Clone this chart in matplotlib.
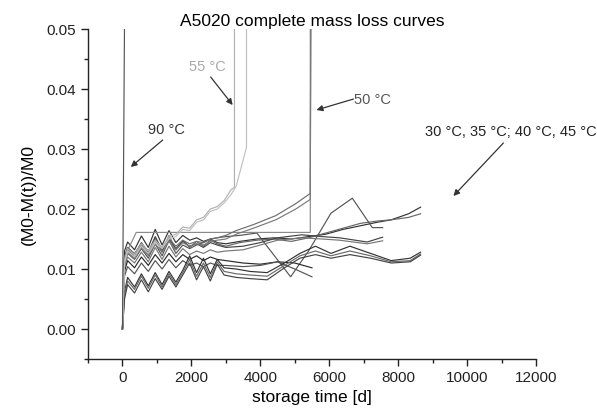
import matplotlib
matplotlib.use("Agg")
import matplotlib.pyplot as plt
from matplotlib.ticker import MultipleLocator, FormatStrFormatter

plt.rcParams['font.family'] = ['Liberation Sans', 'DejaVu Sans']

# ---------------- data (mass loss in per-mille, time in days) ----------------
T_EARLY = [0, 60, 150, 350, 550, 750, 950, 1150, 1350, 1550, 1750, 1950, 2150, 2350, 2550, 2750]

# 30-45 °C curves
u1_t = T_EARLY + [3000, 3400, 3900, 4400, 4900, 5400, 5900, 6400, 6900, 7400, 7800, 8300, 8650]
u1_y = [0, 13.0, 14.5, 13.2, 15.5, 13.6, 16.6, 14.0, 16.4, 14.4, 15.6, 14.8, 15.2, 14.6, 15.0, 14.4,
        14.2, 14.6, 15.0, 15.2, 15.0, 15.4, 15.8, 16.6, 17.2, 17.8, 18.2, 19.2, 20.3]
u2_t = T_EARLY + [3000, 3400, 3900, 4400, 4900, 5400, 5900, 6400, 6900, 7400, 7800, 8300, 8650]
u2_y = [0, 11.5, 13.2, 12.0, 14.0, 12.4, 15.2, 12.8, 15.6, 13.2, 14.8, 13.6, 14.6, 13.8, 14.8, 14.2,
        13.8, 14.4, 14.8, 15.0, 14.6, 15.2, 16.0, 16.8, 17.6, 18.0, 18.2, 18.6, 19.2]
u3_t = T_EARLY + [3000, 3400, 3900, 4880, 5400, 6050, 6670, 7250, 7550]
u3_y = [0, 10.8, 12.6, 11.6, 13.4, 11.8, 14.2, 12.2, 14.8, 12.6, 14.0, 13.4, 14.0, 14.4, 15.0, 15.2,
        15.4, 15.6, 16.0, 8.7, 13.0, 19.3, 21.8, 16.9, 16.9]
u4_t = T_EARLY + [3000, 3500, 4000, 4500, 5200, 5800, 6300, 7100, 7550]
u4_y = [0, 12.0, 13.6, 12.4, 14.4, 12.8, 15.4, 13.2, 15.0, 13.4, 14.6, 13.8, 14.2, 13.6, 14.4, 14.0,
        13.6, 13.8, 14.4, 15.2, 15.7, 15.4, 15.2, 14.5, 15.3]
u5_t = T_EARLY + [3000, 3500, 4000, 4500, 5200, 5800, 6300, 7100, 7550]
u5_y = [0, 10.4, 12.0, 11.0, 12.8, 11.2, 13.6, 11.6, 13.8, 12.0, 13.4, 12.4, 13.0, 12.6, 13.2, 12.8,
        13.0, 13.2, 14.0, 14.8, 15.2, 15.0, 14.8, 14.2, 14.7]
m1_t = T_EARLY + [3000, 3500, 4000, 4500, 5000, 5500]
m1_y = [0, 9.6, 11.4, 10.2, 12.0, 10.6, 12.4, 11.0, 12.6, 11.2, 12.4, 11.6, 12.2, 11.4, 12.0, 11.6,
        11.4, 11.0, 10.8, 11.2, 11.0, 10.2]
m2_t = T_EARLY + [3000, 3500, 4000, 4500, 5000, 5500]
m2_y = [0, 8.8, 10.4, 9.2, 11.0, 9.6, 11.4, 10.0, 11.6, 10.2, 11.4, 10.6, 11.0, 10.4, 11.0, 10.6,
        10.6, 10.4, 10.6, 11.2, 10.0, 8.7]
l1_t = T_EARLY + [2950, 3300, 3700, 4200, 4700, 5150, 5600, 6050, 6600, 7200, 7800, 8350, 8650]
l1_y = [0, 6.2, 8.6, 7.0, 9.2, 7.2, 9.4, 7.4, 9.6, 7.8, 9.8, 12.2, 9.4, 11.8, 9.2, 11.6,
        10.2, 10.0, 9.6, 9.4, 11.0, 12.6, 13.8, 12.6, 13.8, 12.6, 11.4, 11.8, 12.8]
l2_t = T_EARLY + [2950, 3300, 3700, 4200, 4700, 5150, 5600, 6050, 6600, 7200, 7800, 8350, 8650]
l2_y = [0, 5.6, 8.0, 6.6, 8.8, 6.8, 9.0, 7.0, 9.2, 7.4, 9.4, 11.6, 8.8, 11.0, 8.6, 11.2,
        9.6, 9.2, 9.0, 8.8, 10.6, 12.2, 13.0, 12.2, 13.0, 12.2, 11.2, 11.4, 12.5]
l3_t = T_EARLY + [2950, 3300, 3700, 4200, 4700, 5150, 5600, 6050, 6600, 7200, 7800, 8350, 8650]
l3_y = [0, 5.0, 7.4, 6.0, 8.2, 6.2, 8.4, 6.6, 8.8, 7.0, 9.0, 11.0, 8.2, 10.4, 8.0, 10.8,
        9.0, 8.6, 8.4, 8.2, 10.2, 11.8, 12.4, 11.8, 12.4, 11.8, 11.0, 11.2, 12.3]

# 50 °C curves
f1_t = [0, 60, 400, 5450, 5450]
f1_y = [0, 12.0, 16.1, 16.1, 60.0]
f2_t = T_EARLY + [3000, 3300, 3800, 4450, 5030, 5450, 5470]
f2_y = [0, 11.8, 13.6, 12.6, 14.2, 13.0, 14.8, 13.4, 15.0, 13.8, 14.8, 14.2, 14.6, 14.4, 15.0, 15.2,
        15.6, 16.4, 17.4, 18.9, 20.9, 22.6, 60.0]
f3_t = T_EARLY + [3000, 3300, 3800, 4450, 5030, 5450, 5470]
f3_y = [0, 11.0, 12.8, 11.8, 13.6, 12.2, 14.2, 12.8, 14.6, 13.2, 14.4, 13.8, 14.2, 14.0, 14.6, 14.8,
        15.0, 15.8, 16.8, 18.2, 20.0, 21.6, 60.0]

# 55 °C curves
s1_t = T_EARLY + [2950, 3150, 3250, 3250]
s1_y = [0, 11.5, 13.4, 12.4, 14.2, 13.0, 14.8, 13.6, 15.4, 15.8, 17.0, 16.8, 18.2, 18.6, 20.0, 20.4,
        21.4, 23.2, 23.6, 60.0]
s2_t = T_EARLY + [2950, 3150, 3300, 3600, 3600]
s2_y = [0, 11.0, 13.0, 12.0, 13.8, 12.6, 14.4, 13.4, 15.0, 15.4, 16.6, 16.4, 17.8, 18.2, 19.6, 20.0,
        21.0, 22.4, 23.8, 30.3, 60.0]

# 90 °C curve
h1_t = [0, 70]
h1_y = [0, 60.0]

PERMILLE = 1e-3

# ---------------- figure ----------------
fig = plt.figure(figsize=(5.97, 4.12), dpi=100)
ax = fig.add_axes([0.1474, 0.1286, 0.7504, 0.8010])

series = [
    (u1_t, u1_y, '#333333'), (u2_t, u2_y, '#666666'), (u3_t, u3_y, '#555555'),
    (u4_t, u4_y, '#444444'), (u5_t, u5_y, '#777777'), (m1_t, m1_y, '#2a2a2a'),
    (m2_t, m2_y, '#555555'), (l1_t, l1_y, '#333333'), (l2_t, l2_y, '#6a6a6a'),
    (l3_t, l3_y, '#444444'),
    (f1_t, f1_y, '#8a8a8a'), (f2_t, f2_y, '#6e6e6e'), (f3_t, f3_y, '#7a7a7a'),
    (s1_t, s1_y, '#b0b0b0'), (s2_t, s2_y, '#c0c0c0'),
    (h1_t, h1_y, '#555555'),
]
for t, y, c in series:
    ax.plot(t, [v * PERMILLE for v in y], color=c, lw=0.85)

ax.set_xlim(-1000, 12000)
ax.set_ylim(-0.005, 0.05)
ax.xaxis.set_major_locator(MultipleLocator(2000))
ax.xaxis.set_minor_locator(MultipleLocator(1000))
ax.yaxis.set_major_locator(MultipleLocator(0.01))
ax.yaxis.set_minor_locator(MultipleLocator(0.005))
ax.yaxis.set_major_formatter(FormatStrFormatter('%.2f'))
ax.spines['top'].set_visible(False)
ax.spines['right'].set_visible(False)
for s in ('left', 'bottom'):
    ax.spines[s].set_linewidth(1.0)
    ax.spines[s].set_color('#222222')
ax.tick_params(which='major', direction='out', length=5, width=1, labelsize=11, colors='#222222')
ax.tick_params(which='minor', direction='out', length=3, width=1, colors='#222222')

ax.set_xlabel('storage time [d]', fontsize=12.5, labelpad=4)
ax.set_ylabel('(M0-M(t))/M0', fontsize=12.5, labelpad=8)
ax.set_title('A5020 complete mass loss curves', fontsize=12.5, pad=0)

arrow = dict(arrowstyle='-|>', color='#333333', lw=0.9, mutation_scale=9, shrinkA=0, shrinkB=0)
ax.text(2473, 0.04367, '55 °C', color='#aaaaaa', fontsize=10.5, ha='center', va='center')
ax.annotate('', xy=(3198, 0.03733), xytext=(2560, 0.0420), arrowprops=arrow)
ax.text(1284, 0.03317, '90 °C', color='#333333', fontsize=10.5, ha='center', va='center')
ax.annotate('', xy=(241, 0.0270), xytext=(1168, 0.0315), arrowprops=arrow)
ax.text(7256, 0.03817, '50 °C', color='#555555', fontsize=10.5, ha='center', va='center')
ax.annotate('', xy=(5630, 0.0365), xytext=(6703, 0.03833), arrowprops=arrow)
ax.text(11257, 0.03283, '30 °C, 35 °C; 40 °C, 45 °C', color='#222222', fontsize=10.5,
        ha='center', va='center', clip_on=False)
ax.annotate('', xy=(9604, 0.02217), xytext=(11054, 0.0310), arrowprops=arrow)

fig.savefig('out.png', dpi=100)
